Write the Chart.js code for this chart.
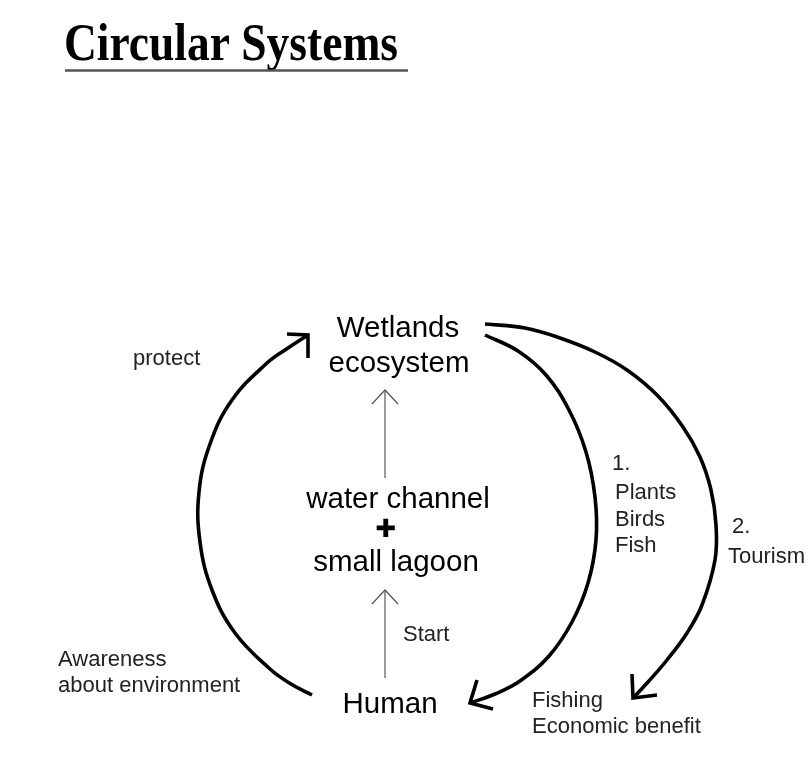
<!DOCTYPE html>
<html><head><meta charset="utf-8">
<script src="https://cdn.jsdelivr.net/npm/chart.js@4/dist/chart.umd.min.js"></script>
<style>html,body{margin:0;padding:0;background:#fff;overflow:hidden}#wrap{width:808px;height:764px}</style>
</head><body><div id="wrap"><canvas id="c" width="808" height="764"></canvas></div>
<script>
// ---- diagram content (coordinates are in the diagram's own 808 x 764 value space) ----
const title = "Circular Systems";

const mainTexts = ["Wetlands", "ecosystem", "water channel", "\u271A", "small lagoon", "Human"];
const mainX = [398, 399, 398, 386, 396, 390];
const mainY = [337, 372, 508, 530, 571, 713];

const noteTexts = ["protect", "1.", "Plants", "Birds", "Fish", "2.", "Tourism", "Start",
                   "Awareness", "about environment", "Fishing", "Economic benefit"];
const noteX = [133, 612, 615, 615, 615, 732, 728, 403, 58, 58, 532, 532];
const noteY = [365, 470, 499, 526, 552, 533, 563, 641, 666, 692, 707, 733];

// "protect" arc: Human -> Wetlands ecosystem
const protectArc = [
  {x:312,y:695},{x:291,y:684},{x:270,y:669},{x:235,y:633},{x:212,y:590},{x:200,y:542},
  {x:199,y:492},{x:210,y:444},{x:232,y:400},{x:267,y:363},{x:288,y:348},{x:308,y:335}
];
const protectHead = [{x:287,y:334},{x:308,y:335},{x:308,y:358}];

// "1. Plants Birds Fish" arc: Wetlands -> Human
const resourceArc = [
  {x:485,y:335},{x:518,y:351},{x:546,y:375},{x:569,y:410},{x:586,y:452},{x:595,y:497},
  {x:596,y:540},{x:588,y:583},{x:572,y:622},{x:549,y:656},{x:520,y:681},{x:495,y:694},
  {x:470,y:703}
];
const resourceHead = [{x:477,y:680},{x:470,y:703},{x:493,y:709}];

// "2. Tourism" arc: Wetlands -> Fishing / Economic benefit
const tourismArc = [
  {x:485,y:324},{x:525,y:328},{x:560,y:338},{x:595,y:352},{x:627,y:370},{x:658,y:396},
  {x:683,y:427},{x:700,y:457},{x:711,y:490},{x:716,y:525},{x:715,y:560},{x:702,y:605},
  {x:687,y:633},{x:667,y:660},{x:648,y:682},{x:633,y:698}
];
const tourismHead = [{x:632,y:674},{x:633,y:698},{x:657,y:695}];

// thin arrows in the middle column
const upperArrow = [{x:385,y:478},{x:385,y:390}];
const upperHead = [{x:372,y:404},{x:385,y:390},{x:398,y:404}];
const startArrow = [{x:385,y:678},{x:385,y:590}];
const startHead = [{x:372,y:604},{x:385,y:590},{x:398,y:604}];

// ---- chart ----
function thick(data){
  return {data, showLine:true, borderColor:'#000', borderWidth:3.6, tension:0.4,
          pointRadius:0, borderCapStyle:'butt', borderJoinStyle:'round', fill:false};
}
function headThick(data){
  return {data, showLine:true, borderColor:'#000', borderWidth:3.6, tension:0,
          pointRadius:0, borderCapStyle:'butt', borderJoinStyle:'miter', fill:false};
}
function thin(data){
  return {data, showLine:true, borderColor:'#555', borderWidth:1.2, tension:0,
          pointRadius:0, borderCapStyle:'butt', borderJoinStyle:'miter', fill:false};
}

const textPlugin = {
  id:'diagramText',
  afterDatasetsDraw(chart){
    const ctx = chart.ctx, xs = chart.scales.x, ys = chart.scales.y;
    ctx.save();
    // title
    ctx.fillStyle = '#000';
    ctx.textAlign = 'left';
    ctx.textBaseline = 'alphabetic';
    ctx.font = 'bold 52px "Liberation Serif", "DejaVu Serif", serif';
    ctx.fillText(title, xs.getPixelForValue(64), ys.getPixelForValue(60), 334);
    ctx.strokeStyle = '#555';
    ctx.lineWidth = 2.5;
    ctx.beginPath();
    ctx.moveTo(xs.getPixelForValue(65), ys.getPixelForValue(70.5));
    ctx.lineTo(xs.getPixelForValue(408), ys.getPixelForValue(70.5));
    ctx.stroke();
    // main node labels
    ctx.textAlign = 'center';
    mainTexts.forEach((t,i)=>{
      if (t === '\u271A') {
        ctx.font = 'bold 25px "DejaVu Sans", sans-serif';
        ctx.textBaseline = 'middle';
      } else {
        ctx.font = '29.5px "Liberation Sans", Arial, sans-serif';
        ctx.textBaseline = 'alphabetic';
      }
      ctx.fillText(t, xs.getPixelForValue(mainX[i]), ys.getPixelForValue(mainY[i]));
    });
    // notes
    ctx.textAlign = 'left';
    ctx.textBaseline = 'alphabetic';
    ctx.fillStyle = '#222';
    ctx.font = '22px "Liberation Sans", Arial, sans-serif';
    noteTexts.forEach((t,i)=>{
      ctx.fillText(t, xs.getPixelForValue(noteX[i]), ys.getPixelForValue(noteY[i]));
    });
    ctx.restore();
  }
};

new Chart(document.getElementById('c'), {
  type:'scatter',
  data:{datasets:[
    thick(protectArc), headThick(protectHead),
    thick(resourceArc), headThick(resourceHead),
    thick(tourismArc), headThick(tourismHead),
    thin(upperArrow), thin(upperHead), thin(startArrow), thin(startHead)
  ]},
  options:{
    responsive:false, animation:false, devicePixelRatio:1,
    layout:{padding:0},
    plugins:{legend:{display:false}, tooltip:{enabled:false}, title:{display:false}},
    scales:{
      x:{type:'linear', min:0, max:808, display:false},
      y:{type:'linear', min:0, max:764, reverse:true, display:false}
    },
    elements:{point:{radius:0, hoverRadius:0}}
  },
  plugins:[textPlugin]
});
</script>
</body></html>
